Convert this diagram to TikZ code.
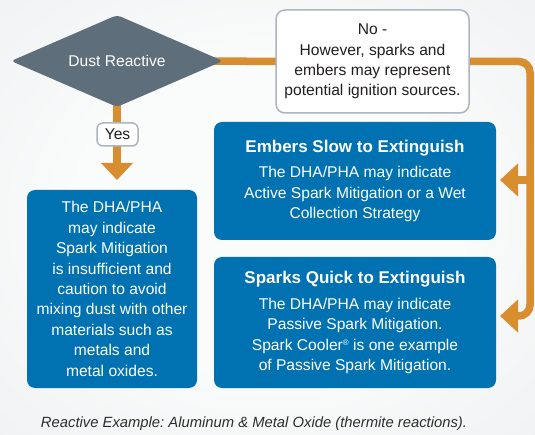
\documentclass[tikz,border=0pt]{standalone}
\usepackage{fontspec}
\setmainfont{Liberation Sans}
\frenchspacing
\usetikzlibrary{shapes.geometric,arrows.meta,calc}
\definecolor{bgin}{RGB}{250,251,251}
\definecolor{bgout}{RGB}{220,225,228}
\definecolor{boxblue}{RGB}{0,114,178}
\definecolor{dgray}{RGB}{94,110,123}
\definecolor{orng}{RGB}{216,142,46}
\definecolor{bord}{RGB}{172,182,190}
\definecolor{txt}{RGB}{35,31,32}
\definecolor{captxt}{RGB}{45,45,45}
\pgfdeclareradialshading{bgshade}{\pgfpoint{0bp}{0bp}}{color(0bp)=(bgin); color(18bp)=(bgin); color(72bp)=(bgout)}
\pgfdeclarelayer{bglayer}
\pgfdeclarelayer{linelayer}
\pgfsetlayers{bglayer,linelayer,main}
\begin{document}
\begin{tikzpicture}[x=1pt,y=-1pt,
  bodyfont/.style={font=\fontsize{15.6pt}{20.4pt}\selectfont},
  bluebox/.style={fill=boxblue, rounded corners=8pt, inner sep=0pt, text=white, align=center, bodyfont},
  whitebox/.style={fill=white, draw=bord, line width=1.5pt, inner sep=0pt, text=txt, align=center, bodyfont},
  orangeline/.style={draw=orng, line width=7.5pt},
  bigtip/.style={-{Triangle[length=18pt,width=32pt]}},
  downtip/.style={-{Triangle[length=17pt,width=31pt]}}
]
\newcommand{\ttlfont}{\fontsize{17pt}{20.4pt}\selectfont\bfseries}
\useasboundingbox (0,0) rectangle (535,435);
\begin{pgfonlayer}{bglayer}
  \shade[shading=bgshade] (0,0) rectangle (535,435);
\end{pgfonlayer}

% decision
\node[diamond, aspect=2.3, fill=dgray, minimum width=212pt, minimum height=92pt,
      inner sep=0pt, rounded corners=4pt, text=white, bodyfont] (dust) at (117,61) {Dust Reactive};

% No box
\node[whitebox, rounded corners=9pt, minimum width=193pt, minimum height=103pt] (no) at (372.5,61.5)
  {No -\\However, sparks and\\embers may represent\\potential ignition sources.};

% blue boxes
\node[bluebox, minimum width=170pt, minimum height=198pt] (react) at (112,289)
  {The DHA/PHA\\may indicate\\Spark Mitigation\\is insufficient and\\caution to avoid\\mixing dust with other\\materials such as\\metals and\\metal oxides.};

\node[bluebox, minimum width=282pt, minimum height=118pt] (embers) at (355,181)
  {{\ttlfont Embers Slow to Extinguish}\\[4.6pt]The DHA/PHA may indicate\\Active Spark Mitigation or a Wet\\Collection Strategy};

\node[bluebox, minimum width=282pt, minimum height=131pt] (sparks) at (355,322.5)
  {{\ttlfont Sparks Quick to Extinguish}\\[5.6pt]The DHA/PHA may indicate\\Passive Spark Mitigation.\\Spark Cooler{\raisebox{5pt}{\fontsize{8pt}{8pt}\selectfont ®}} is one example\\of Passive Spark Mitigation.};

% connector end points
\coordinate (yestip) at (117,180);
\coordinate (corner1) at (530,61.5);
\coordinate (corner2) at (530,316);
\coordinate (branch) at (530,180);
\coordinate (ein) at (500,180);
\coordinate (sin) at (500,316);

\begin{pgfonlayer}{linelayer}
  \draw[orangeline] (dust.center) -- (no.center);
  \draw[orangeline, downtip] (dust.center) -- (yestip);
  \draw[orangeline, bigtip, rounded corners=11pt] (no.center) -- (corner1) -- (corner2) -- (sin);
  \draw[orangeline, bigtip] (branch) -- (ein);
\end{pgfonlayer}

% Yes label
\node[whitebox, rounded corners=6pt, minimum width=41pt, minimum height=23pt] (yes) at (117.5,134.5) {Yes};

% caption
\node[text=captxt, font=\fontsize{14.8pt}{17pt}\selectfont\itshape, inner sep=0pt] (cap) at (254,424)
  {Reactive Example: Aluminum \& Metal Oxide (thermite reactions).};
\end{tikzpicture}
\end{document}
